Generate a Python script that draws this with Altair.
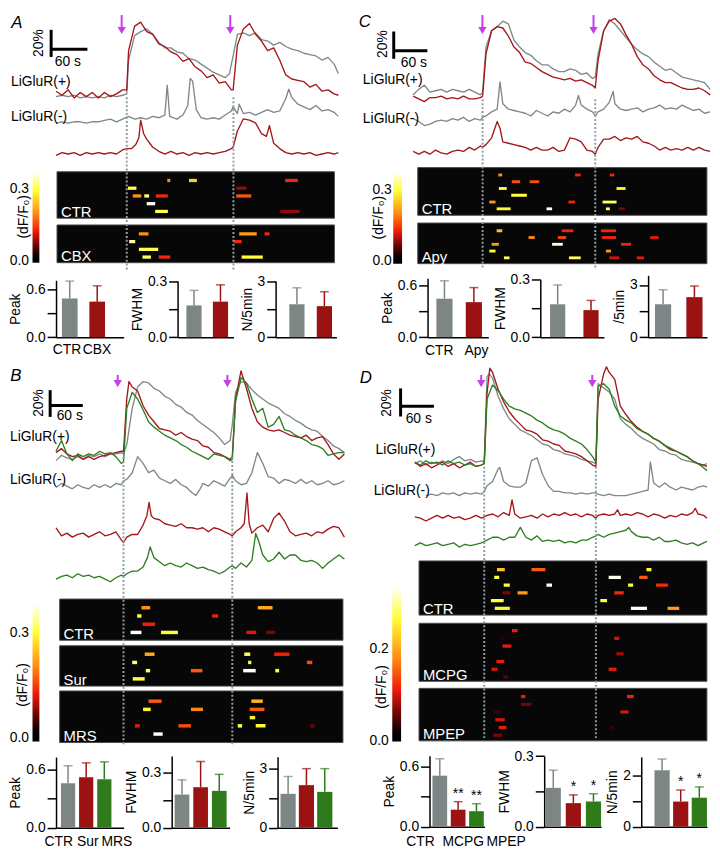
import altair as alt
import pandas as pd

# ============================ DATA ============================
# Traces: (time in s, dF/F in %)
A_GREY_P = [(0,0),(10,1),(20,0),(30,1),(40,-1),(50,0),(60,-1),(70,0),(80,-1),(90,1),(100,0),(110,1),(117,2),(120,27),(130,45),(140,48),(150,50),(160,46),(170,40),(180,36),(190,36),(200,33),(210,32),(220,28),(230,27),(240,24),(250,21),(260,18),(270,16),(280,14),(287,17),(290,24),(293,30),(300,46),(310,47),(320,45),(330,47),(340,42),(350,41),(360,38),(370,40),(380,37),(390,35),(400,34),(410,32),(420,31),(430,30),(440,27),(450,29),(460,24),(467,17)]
A_RED_P = [(0,4),(10,1),(20,5),(30,-1),(40,3),(50,0),(60,3),(70,-1),(80,3),(90,0),(100,2),(110,5),(117,5),(120,34),(130,52),(140,55),(150,48),(160,46),(170,39),(180,37),(190,33),(200,31),(210,26),(220,28),(230,22),(240,19),(250,14),(260,16),(270,10),(280,11),(290,5),(293,5),(300,38),(310,50),(320,54),(330,46),(340,41),(350,34),(360,36),(370,27),(380,16),(390,13),(400,12),(410,11),(420,7),(430,9),(440,4),(450,5),(460,2),(467,1)]
A_GREY_N = [(0,-1),(10,0),(20,-1),(30,0),(40,0),(50,-1),(60,0),(70,0),(80,1),(90,2),(100,0),(110,2),(120,4),(130,2),(140,3),(150,2),(160,4),(170,3),(180,5),(184,27),(188,4),(200,2),(210,5),(218,12),(222,32),(226,30),(232,9),(240,3),(250,2),(260,3),(270,2),(280,5),(290,8),(293,11),(300,6),(303,13),(310,6),(320,7),(330,5),(340,7),(350,9),(360,7),(370,8),(380,17),(385,24),(390,18),(400,13),(410,11),(420,9),(430,12),(440,8),(450,9),(460,7),(467,4)]
A_RED_N = [(0,-1),(10,1),(20,0),(30,1),(40,-1),(50,1),(60,0),(70,1),(80,0),(90,1),(100,0),(110,3),(117,4),(125,4),(132,7),(137,12),(140,25),(145,15),(150,11),(160,5),(170,2),(180,0),(190,2),(200,0),(210,1),(220,-1),(230,1),(240,0),(250,1),(260,0),(270,1),(280,2),(290,4),(293,5),(300,17),(310,26),(320,25),(330,23),(340,15),(348,13),(353,21),(360,8),(370,4),(380,1),(390,0),(400,1),(410,0),(420,1),(430,-1),(440,0),(450,1),(460,0),(467,1)]

C_GREY_P = [(0,2),(10,6),(20,9),(30,4),(40,5),(50,6),(60,4),(70,6),(80,5),(90,4),(100,6),(110,4),(120,2),(124,4),(130,37),(140,49),(150,52),(160,56),(170,54),(180,42),(190,37),(200,33),(210,31),(220,27),(230,24),(240,24),(250,21),(260,19),(270,19),(280,21),(290,20),(300,17),(310,18),(320,14),(325,15),(330,32),(340,49),(350,57),(360,54),(370,49),(380,44),(390,39),(400,35),(410,32),(420,30),(430,26),(440,23),(450,20),(460,21),(470,18),(480,15),(490,14),(500,13),(510,12),(520,11),(530,6)]
C_RED_P = [(0,1),(10,-1),(20,-3),(30,0),(40,0),(50,1),(60,-1),(70,0),(80,-1),(90,1),(100,-1),(110,-1),(120,0),(124,1),(130,32),(140,49),(150,52),(160,51),(170,45),(180,37),(190,33),(200,26),(210,25),(220,22),(230,19),(240,17),(250,15),(260,14),(270,13),(280,14),(290,12),(300,13),(310,11),(320,9),(325,7),(330,27),(340,49),(350,56),(360,58),(370,54),(380,46),(390,39),(400,30),(410,24),(420,21),(430,16),(440,13),(450,11),(460,11),(470,9),(480,7),(490,6),(500,6),(510,7),(520,5),(530,2)]
C_GREY_N = [(0,0),(10,-2),(20,-5),(30,-4),(40,-2),(50,-1),(60,-2),(70,0),(80,-1),(90,1),(100,-2),(110,0),(120,-1),(124,1),(130,2),(140,5),(150,7),(155,27),(160,11),(170,7),(180,6),(190,5),(200,4),(210,2),(220,6),(230,4),(240,2),(250,5),(260,4),(270,7),(280,5),(290,10),(295,17),(300,10),(310,7),(320,5),(325,2),(330,5),(340,7),(350,12),(357,20),(360,11),(370,7),(380,6),(390,7),(400,8),(410,5),(420,7),(430,8),(440,10),(450,7),(460,8),(470,7),(480,10),(490,8),(500,6),(510,7),(520,4),(530,5)]
C_RED_N = [(0,1),(10,-1),(20,1),(30,-1),(40,2),(50,0),(60,-1),(70,1),(80,2),(90,1),(100,4),(110,2),(120,5),(124,4),(130,6),(140,11),(150,23),(155,18),(160,8),(170,7),(180,6),(190,5),(200,4),(210,2),(220,4),(230,2),(240,2),(250,4),(260,1),(270,2),(280,11),(290,10),(300,8),(310,2),(320,1),(325,-1),(330,4),(340,10),(350,10),(360,12),(370,9),(380,11),(390,10),(400,12),(410,8),(420,7),(430,5),(440,2),(450,4),(460,2),(470,3),(480,2),(490,4),(500,2),(510,4),(520,2),(530,1)]

B_GREY_P = [(0,-5),(10,-1),(20,-3),(30,-4),(40,-2),(50,-4),(60,-1),(70,-2),(80,0),(90,-2),(100,0),(110,0),(120,1),(124,0),(130,7),(140,34),(150,50),(160,54),(170,53),(180,49),(190,47),(200,43),(210,41),(220,37),(230,35),(240,31),(250,29),(260,25),(270,22),(280,19),(290,16),(300,12),(310,7),(320,10),(324,22),(330,46),(340,54),(350,53),(360,48),(370,44),(380,41),(390,38),(400,36),(410,34),(420,30),(430,28),(440,25),(450,23),(460,20),(470,18),(480,17),(490,13),(500,10),(510,6),(520,4),(530,1)]
B_RED_P = [(0,1),(10,4),(20,0),(30,-2),(40,-1),(50,-4),(60,-2),(70,-4),(80,-2),(90,-1),(100,0),(110,1),(120,2),(124,2),(130,41),(134,54),(140,50),(150,47),(160,36),(170,29),(180,24),(190,19),(200,18),(210,17),(220,14),(230,16),(240,13),(250,11),(260,10),(270,6),(280,5),(290,1),(300,0),(310,-2),(320,-4),(324,-2),(330,41),(340,62),(350,49),(360,34),(370,24),(380,20),(390,18),(400,17),(410,18),(420,16),(430,14),(440,13),(450,12),(460,14),(470,10),(480,12),(490,13),(500,7),(510,0),(520,-4),(530,0)]
B_GREEN_P = [(0,2),(10,10),(20,0),(30,-5),(40,0),(50,-2),(60,0),(70,-1),(80,2),(90,0),(100,1),(110,-2),(120,-7),(124,-6),(130,34),(140,46),(150,41),(160,33),(170,24),(180,20),(190,17),(200,14),(210,12),(220,10),(230,7),(240,5),(250,2),(260,0),(270,-2),(280,-4),(290,0),(300,-1),(310,-2),(320,-5),(324,-4),(330,39),(340,57),(350,53),(360,41),(370,31),(380,34),(390,20),(400,22),(410,28),(420,18),(430,17),(440,14),(450,12),(460,10),(470,7),(480,6),(490,4),(500,-1),(510,0),(520,1),(530,1)]
B_GREY_N = [(0,-1),(10,2),(20,0),(30,-2),(40,1),(50,-1),(60,-2),(70,1),(80,-1),(90,1),(100,-1),(110,2),(120,1),(124,4),(130,5),(140,10),(150,22),(160,17),(170,10),(180,12),(190,6),(200,4),(210,2),(220,5),(230,1),(240,-1),(250,-5),(257,-7),(265,-2),(270,2),(280,0),(290,4),(300,2),(310,0),(320,6),(324,8),(330,4),(340,1),(350,2),(360,10),(370,25),(380,17),(390,7),(400,6),(410,2),(420,5),(430,4),(440,2),(450,5),(460,2),(470,4),(480,1),(490,2),(500,4),(510,1),(520,2),(530,4)]
B_RED_N = [(0,5),(10,-1),(20,1),(30,-2),(40,0),(50,1),(60,-2),(70,0),(80,2),(90,-1),(100,0),(110,2),(120,-4),(124,-6),(130,-2),(140,0),(150,0),(160,7),(167,14),(171,24),(175,14),(180,12),(190,11),(200,8),(210,7),(220,6),(230,8),(240,5),(250,5),(260,4),(270,5),(280,2),(290,5),(300,4),(310,2),(320,0),(324,-1),(330,2),(340,5),(346,8),(351,31),(355,8),(360,1),(370,5),(380,7),(390,2),(400,12),(410,16),(420,10),(430,2),(440,-1),(450,0),(460,1),(470,-1),(480,2),(490,1),(500,4),(510,6),(520,5),(530,-2)]
B_GREEN_N = [(0,-2),(10,0),(20,1),(30,-1),(40,2),(50,0),(60,1),(70,-1),(80,0),(90,-2),(100,-4),(110,-1),(120,1),(124,0),(130,2),(140,4),(150,4),(160,7),(168,14),(173,22),(180,14),(190,11),(200,8),(210,10),(220,8),(230,7),(240,10),(250,8),(260,6),(270,7),(280,5),(290,4),(300,2),(310,4),(320,7),(324,8),(330,6),(340,10),(350,7),(360,12),(367,32),(372,27),(380,16),(390,11),(400,13),(410,18),(420,13),(430,16),(440,16),(450,12),(460,11),(470,12),(480,10),(490,6),(500,10),(510,13),(520,16),(530,13)]

D_GREY_P = [(0,0),(10,2),(20,-1),(30,1),(40,0),(50,2),(60,0),(70,3),(80,5),(90,2),(100,3),(110,1),(120,2),(125,1),(130,62),(134,64),(140,61),(150,48),(160,39),(170,32),(180,28),(190,24),(200,22),(210,20),(220,17),(230,14),(240,13),(250,10),(260,9),(270,7),(280,6),(290,5),(300,3),(310,2),(320,1),(326,0),(330,57),(340,54),(350,51),(360,46),(370,32),(380,28),(390,25),(400,21),(410,18),(420,16),(430,14),(440,10),(450,9),(460,7),(470,6),(480,3),(490,2),(500,1),(510,0),(520,-1),(526,0)]
D_RED_P = [(0,1),(10,-2),(20,0),(30,-3),(40,-1),(50,1),(60,-2),(70,0),(80,-3),(90,-1),(100,1),(110,-2),(120,-1),(125,0),(130,50),(135,68),(140,65),(150,53),(160,44),(170,37),(180,32),(190,28),(200,24),(210,23),(220,21),(230,17),(240,16),(250,14),(260,13),(270,9),(280,8),(290,7),(300,5),(310,2),(320,-1),(326,-2),(330,46),(340,64),(345,69),(350,65),(360,60),(370,41),(380,35),(390,30),(400,26),(410,23),(420,21),(430,18),(440,16),(450,13),(460,10),(470,9),(480,7),(490,5),(500,2),(510,0),(520,-1),(526,-2)]
D_GREEN_P = [(0,1),(10,-1),(20,2),(30,0),(40,1),(50,-1),(60,2),(70,0),(80,1),(90,-1),(100,0),(110,-2),(120,-1),(125,0),(130,46),(140,56),(150,52),(160,46),(170,41),(180,39),(190,38),(200,36),(210,34),(220,31),(230,29),(240,26),(250,24),(260,23),(270,21),(280,18),(290,16),(300,14),(310,10),(320,5),(326,1),(330,55),(340,57),(350,53),(360,41),(370,34),(380,31),(390,29),(400,25),(410,23),(420,21),(430,18),(440,16),(450,13),(460,11),(470,9),(480,7),(490,5),(500,2),(510,0),(520,-3),(526,-5)]
D_GREY_N = [(20,-1),(30,0),(40,-1),(50,1),(60,0),(70,1),(80,-1),(90,1),(100,0),(110,1),(120,0),(125,2),(130,6),(140,9),(150,18),(153,19),(160,9),(170,6),(180,5),(190,5),(200,8),(210,24),(220,26),(230,14),(240,6),(250,2),(260,2),(270,1),(280,1),(290,0),(300,1),(310,0),(320,1),(326,1),(330,0),(340,-1),(350,0),(360,-1),(370,-1),(380,-1),(390,0),(400,1),(410,2),(420,3),(424,23),(430,8),(440,5),(450,8),(460,5),(470,3),(480,5),(490,4),(500,3),(510,5),(520,6),(526,5)]
D_RED_N = [(0,0),(10,-1),(20,-3),(30,-1),(40,1),(50,-1),(60,1),(70,-1),(80,0),(90,-2),(100,-1),(110,1),(120,-1),(125,0),(130,1),(140,2),(150,0),(160,3),(170,1),(175,12),(180,2),(190,-1),(200,0),(210,1),(220,-1),(230,2),(240,0),(250,2),(260,1),(270,3),(280,1),(290,2),(300,0),(310,2),(320,1),(326,-1),(330,1),(340,2),(350,1),(360,2),(365,5),(370,1),(380,2),(390,1),(400,3),(410,2),(420,0),(430,2),(440,1),(450,-1),(460,1),(470,0),(480,2),(490,1),(500,3),(505,6),(510,2),(520,1),(526,-1)]
D_GREEN_N = [(0,-1),(10,1),(20,-1),(30,0),(40,1),(50,-1),(60,0),(70,1),(80,-2),(90,0),(100,-1),(110,0),(120,1),(125,2),(130,3),(140,5),(150,5),(160,3),(170,5),(180,5),(190,12),(200,5),(210,3),(220,6),(230,2),(240,3),(250,2),(260,3),(270,1),(280,2),(290,1),(300,3),(310,3),(320,5),(326,6),(330,7),(340,5),(350,7),(360,8),(370,9),(380,10),(385,12),(390,9),(400,6),(410,5),(420,5),(430,3),(440,5),(450,2),(460,2),(470,3),(480,1),(490,0),(500,1),(510,-1),(520,1),(526,2)]

# Photostimulation (dotted lines) and arrow times, s
A_STIM, A_ARROW = [117, 293.5], [108.6, 288.2]
C_STIM, C_ARROW = [124, 325], [123.6, 321.9]
B_STIM, B_ARROW = [124, 324], [113.4, 315]
D_STIM, D_ARROW = [125, 326], [119.5, 319.5]

# Raster events: (group, cell row, start s, end s, peak dF/F0)
A_DASH = [("CTR",1,184,189,0.20),("CTR",1,220,233,0.25),("CTR",1,379,400,0.13),
          ("CTR",2,119,133,0.30),("CTR",2,298,315,0.08),
          ("CTR",3,127,141,0.20),("CTR",3,146,154,0.31),("CTR",3,165,185,0.13),("CTR",3,298,323,0.16),
          ("CTR",4,150,164,0.37),
          ("CTR",5,164,185,0.30),("CTR",5,371,403,0.08),
          ("CBX",1,137,153,0.20),("CBX",1,303,332,0.21),("CBX",1,345,353,0.13),
          ("CBX",2,121,131,0.33),("CBX",2,294,307,0.13),
          ("CBX",3,137,169,0.30),
          ("CBX",4,143,157,0.31),("CBX",4,170,189,0.13),("CBX",4,307,342,0.29)]
C_DASH = [("CTR",1,152,159,0.20),("CTR",1,289,299,0.13),("CTR",1,351,359,0.13),
          ("CTR",2,176,191,0.16),("CTR",2,208,225,0.16),
          ("CTR",3,153,167,0.30),("CTR",3,363,379,0.29),
          ("CTR",4,175,203,0.30),
          ("CTR",5,136,147,0.21),("CTR",5,277,289,0.13),("CTR",5,338,363,0.31),
          ("CTR",6,149,174,0.29),("CTR",6,238,248,0.37),("CTR",6,344,351,0.31),("CTR",6,367,378,0.07),
          ("Apy",1,149,159,0.24),("Apy",1,265,286,0.13),("Apy",1,335,362,0.13),
          ("Apy",2,206,217,0.20),("Apy",2,258,273,0.15),("Apy",2,337,362,0.13),("Apy",2,423,438,0.12),
          ("Apy",3,140,153,0.21),("Apy",3,248,267,0.36),("Apy",3,371,389,0.13),
          ("Apy",4,136,147,0.30),("Apy",4,344,353,0.21),
          ("Apy",5,162,172,0.30),("Apy",5,278,299,0.31),("Apy",5,350,368,0.11),("Apy",5,399,412,0.12)]
B_DASH = [("CTR",1,157,173,0.21),("CTR",1,371,398,0.23),
          ("CTR",2,149,157,0.31),("CTR",2,287,298,0.13),
          ("CTR",3,159,182,0.13),
          ("CTR",4,137,157,0.38),("CTR",4,193,224,0.30),("CTR",4,350,368,0.12),("CTR",4,386,403,0.07),
          ("Sur",1,163,181,0.23),("Sur",1,346,357,0.31),("Sur",1,401,429,0.13),
          ("Sur",2,140,149,0.33),("Sur",2,353,359,0.30),("Sur",2,461,471,0.16),
          ("Sur",3,165,173,0.31),("Sur",3,248,269,0.17),("Sur",3,344,367,0.38),("Sur",3,403,410,0.31),
          ("Sur",4,141,163,0.31),
          ("MRS",1,170,194,0.17),("MRS",1,359,380,0.24),
          ("MRS",2,160,174,0.30),("MRS",2,248,270,0.20),("MRS",2,356,383,0.17),
          ("MRS",3,356,366,0.29),
          ("MRS",4,145,154,0.12),("MRS",4,225,248,0.16),("MRS",4,334,342,0.31),("MRS",4,367,385,0.30),("MRS",4,467,476,0.06),
          ("MRS",5,179,196,0.38)]
D_DASH = [("CTR",1,148,162,0.22),("CTR",1,210,235,0.15),("CTR",1,417,426,0.26),
          ("CTR",2,143,152,0.27),("CTR",2,349,371,0.33),("CTR",2,404,419,0.15),
          ("CTR",3,160,171,0.27),("CTR",3,237,247,0.33),("CTR",3,384,393,0.27),("CTR",3,434,456,0.12),
          ("CTR",4,158,172,0.065),("CTR",4,185,203,0.19),("CTR",4,359,376,0.12),
          ("CTR",5,137,160,0.27),("CTR",5,334,346,0.27),
          ("CTR",6,144,171,0.26),("CTR",6,389,418,0.33),("CTR",6,455,476,0.19),
          ("MCPG",1,175,185,0.11),
          ("MCPG",2,153,162,0.03),("MCPG",2,359,368,0.10),
          ("MCPG",3,158,174,0.11),
          ("MCPG",4,363,376,0.08),
          ("MCPG",5,147,161,0.11),
          ("MCPG",6,138,149,0.10),("MCPG",6,349,363,0.11),
          ("MCPG",7,159,168,0.05),
          ("MPEP",1,191,199,0.11),("MPEP",1,382,394,0.115),
          ("MPEP",2,191,210,0.06),
          ("MPEP",3,141,153,0.035),("MPEP",3,370,385,0.10),
          ("MPEP",4,145,162,0.10),
          ("MPEP",5,151,165,0.11),("MPEP",5,351,359,0.035),
          ("MPEP",6,141,157,0.065)]

# Summary bars: mean and SEM
A_CATS = ["CTR", "CBX"]
A_PEAK, A_PEAK_SEM = [0.49, 0.45], [0.22, 0.20]
A_FWHM, A_FWHM_SEM = [0.17, 0.19], [0.08, 0.09]
A_N5, A_N5_SEM = [1.76, 1.66], [0.88, 0.77]
C_CATS = ["CTR", "Apy"]
C_PEAK, C_PEAK_SEM = [0.45, 0.41], [0.21, 0.17]
C_FWHM, C_FWHM_SEM = [0.17, 0.14], [0.10, 0.05]
C_N5, C_N5_SEM = [1.89, 2.30], [0.83, 0.64]
B_CATS = ["CTR", "Sur", "MRS"]
B_PEAK, B_PEAK_SEM = [0.46, 0.52, 0.50], [0.18, 0.15, 0.18]
B_FWHM, B_FWHM_SEM = [0.18, 0.22, 0.20], [0.08, 0.14, 0.09]
B_N5, B_N5_SEM = [1.72, 2.16, 1.82], [0.88, 0.84, 1.18]
D_CATS = ["CTR", "MCPG", "MPEP"]
D_PEAK, D_PEAK_SEM = [0.51, 0.17, 0.155], [0.17, 0.08, 0.075]
D_FWHM, D_FWHM_SEM = [0.165, 0.10, 0.107], [0.075, 0.035, 0.033]
D_N5, D_N5_SEM = [2.20, 0.98, 1.13], [0.44, 0.45, 0.42]
D_STARS_PEAK = ["", "**", "**"]
D_STARS_OTHER = ["", "*", "*"]

# ============================ STYLE / LAYOUT ============================
SX, SY = 0.99, 0.977
def px(x): return x * SX
def py(y): return y * SY
W, H = int(round(px(718))), int(round(py(862)))

FONT = "Liberation Sans"
GREY, RED, GREEN = "#7e8888", "#a3161a", "#2e7d1f"
BGREY, BRED, BGREEN = "#7d8585", "#9b1212", "#2f7b1c"
MAG = "#c23fea"
DOT = "#8d9ea6"
CM_FR = [0.0, 0.05, 0.19, 0.33, 0.53, 0.79, 1.0]
CM_COL = ["#000000", "#060000", "#7a0606", "#f01a0a", "#ff8a10", "#ffff38", "#ffffff"]

PANELS = [
    dict(x0=49, px60=37.0, T=467, base=87.3, ppp=1.4,
         traces=[("g+", A_GREY_P, GREY), ("r+", A_RED_P, RED), ("g-", A_GREY_N, GREY), ("r-", A_RED_N, RED)],
         offsets={"g+": 0, "r+": 0, "g-": -18.6, "r-": -42.4},
         stim=A_STIM, arrows=A_ARROW, dot_y=(88, 266), arrow_y=(3, 23),
         sb=dict(vx=44, vtop=18.3, hy=38.3), t20=(32, 32), t60=(61, 52),
         lplus=(3, 72), lminus=(3, 108), letter=("A", 9, 11),
         heat=dict(slot0=166, row_h=8, offs={"CTR": 0, "CBX": 6.9}, dashes=A_DASH,
                   boxes=[("CTR", 50, 333, 165, 213), ("CBX", 50, 333, 220, 259)]),
         cbar=dict(x0=25, x1=32, top=165, bottom=259, zero=257, tick=182, tickv=0.3, lab_right=21, tx=16, ty=211),
         cats=A_CATS, cols=[BGREY, BRED], stars=None,
         bars=[dict(title="Peak", mean=A_PEAK, sem=A_PEAK_SEM, axis=49, end=118, zero=336, tickpx=287, tickv=0.6, top=0.72, ticks=[0, 0.3, 0.6], fmt=".1f", first=55, bw=16, step=28),
               dict(title="FWHM", mean=A_FWHM, sem=A_FWHM_SEM, axis=173, end=230, zero=336, tickpx=278, tickv=0.3, top=0.3, ticks=[0, 0.15, 0.3], fmt=".1f", first=182, bw=15.5, step=27),
               dict(title="N/5min", mean=A_N5, sem=A_N5_SEM, axis=273, end=335, zero=336, tickpx=278, tickv=3, top=3, ticks=[0, 1.5, 3], fmt="d", first=287, bw=15.5, step=28)],
         labels=dict(rng=(45, 106), top=342)),
    dict(x0=413.3, px60=34.3, T=530, base=88.3, ppp=1.41,
         traces=[("g+", C_GREY_P, GREY), ("r+", C_RED_P, RED), ("g-", C_GREY_N, GREY), ("r-", C_RED_N, RED)],
         offsets={"g+": 0, "r+": 0, "g-": -15.5, "r-": -40.5},
         stim=C_STIM, arrows=C_ARROW, dot_y=(90, 265), arrow_y=(3, 23),
         sb=dict(vx=393.5, vtop=20, hy=40), t20=(383, 33), t60=(414, 53),
         lplus=(362, 70), lminus=(362, 110), letter=("C", 364, 10),
         heat=dict(slot0=161.3, row_h=7, offs={"CTR": 0, "Apy": 8.24}, dashes=C_DASH,
                   boxes=[("CTR", 418, 713, 160.7, 210), ("Apy", 418, 713, 218, 260)]),
         cbar=dict(x0=393, x1=402, top=165, bottom=260, zero=257, tick=183, tickv=0.3, lab_right=391, tx=377.5, ty=212),
         cats=C_CATS, cols=[BGREY, BRED], stars=None,
         bars=[dict(title="Peak", mean=C_PEAK, sem=C_PEAK_SEM, axis=428, end=490, zero=336, tickpx=283, tickv=0.6, top=0.69, ticks=[0, 0.3, 0.6], fmt=".1f", first=437, bw=16.5, step=30),
               dict(title="FWHM", mean=C_FWHM, sem=C_FWHM_SEM, axis=543, end=608, zero=336, tickpx=276, tickv=0.3, top=0.3, ticks=[0, 0.15, 0.3], fmt=".1f", first=553, bw=15.5, step=34),
               dict(title="/5min", mean=C_N5, sem=C_N5_SEM, axis=653, end=713, zero=336, tickpx=282, tickv=3, top=3.55, ticks=[0, 1.5, 3], fmt="d", first=660, bw=16.5, step=32)],
         labels=dict(rng=(421, 497), top=343)),
    dict(x0=49, px60=33.3, T=529, base=456.7, ppp=1.385,
         traces=[("g+", B_GREY_P, GREY), ("r+", B_RED_P, RED), ("G+", B_GREEN_P, GREEN), ("g-", B_GREY_N, GREY), ("r-", B_RED_N, RED), ("G-", B_GREEN_N, GREEN)],
         offsets={"g+": 0, "r+": 0, "G+": 0, "g-": -24.0, "r-": -60.1, "G-": -91.4},
         stim=B_STIM, arrows=B_ARROW, dot_y=(460, 758), arrow_y=(375, 388),
         sb=dict(vx=43, vtop=390.7, hy=406.7), t20=(32, 404), t60=(63, 417),
         lplus=(2, 439), lminus=(2, 484), letter=("B", 8, 376),
         heat=dict(slot0=607.2, row_h=8.5, offs={"CTR": 0, "Sur": 5.65, "MRS": 11.36}, dashes=B_DASH,
                   boxes=[("CTR", 52.7, 341.7, 606.7, 649.3), ("Sur", 52.7, 341.7, 655, 696.7), ("MRS", 52.7, 341.7, 701.7, 755)]),
         cbar=dict(x0=25, x1=32, top=611.7, bottom=754, zero=750, tick=641.7, tickv=0.3, lab_right=21, tx=15, ty=695),
         cats=B_CATS, cols=[BGREY, BRED, BGREEN], stars=None,
         bars=[dict(title="Peak", mean=B_PEAK, sem=B_PEAK_SEM, axis=49, end=118, zero=843, tickpx=783, tickv=0.6, top=0.73, ticks=[0, 0.3, 0.6], fmt=".1f", first=54, bw=14.5, step=18.5),
               dict(title="FWHM", mean=B_FWHM, sem=B_FWHM_SEM, axis=167, end=226, zero=843, tickpx=786, tickv=0.3, top=0.39, ticks=[0, 0.15, 0.3], fmt=".1f", first=170, bw=15, step=19),
               dict(title="N/5min", mean=B_N5, sem=B_N5_SEM, axis=275, end=336, zero=843, tickpx=782, tickv=3, top=3.6, ticks=[0, 1.5, 3], fmt="d", first=278, bw=15.5, step=18.7)],
         labels=dict(rng=(37, 126), top=850)),
    dict(x0=415, px60=34.0, T=526, base=466.7, ppp=1.45,
         traces=[("g+", D_GREY_P, GREY), ("r+", D_RED_P, RED), ("G+", D_GREEN_P, GREEN), ("g-", D_GREY_N, GREY), ("r-", D_RED_N, RED), ("G-", D_GREEN_N, GREEN)],
         offsets={"g+": 0, "r+": 0, "G+": 0, "g-": -21.8, "r-": -37.9, "G-": -57.5},
         stim=D_STIM, arrows=D_ARROW, dot_y=(470, 752), arrow_y=(375, 388),
         sb=dict(vx=400.5, vtop=389, hy=407.3), t20=(387, 404), t60=(419, 421),
         lplus=(375, 453), lminus=(373, 495), letter=("D", 365, 378),
         heat=dict(slot0=568.3, row_h=8, offs={"CTR": 0, "MCPG": 7.875, "MPEP": 16.4}, dashes=D_DASH,
                   boxes=[("CTR", 419.3, 713, 567.3, 623.3), ("MCPG", 419.3, 713, 631.7, 691.7), ("MPEP", 419.3, 713, 699, 753.3)]),
         cbar=dict(x0=392, x1=401, top=593.3, bottom=754, zero=753, tick=658.3, tickv=0.2, lab_right=388, tx=381, ty=697),
         cats=D_CATS, cols=[BGREY, BRED, BGREEN], stars=[D_STARS_PEAK, D_STARS_OTHER, D_STARS_OTHER],
         bars=[dict(title="Peak", mean=D_PEAK, sem=D_PEAK_SEM, axis=430, end=486, zero=842, tickpx=780, tickv=0.6, top=0.71, ticks=[0, 0.3, 0.6], fmt=".1f", first=433, bw=15, step=18.7),
               dict(title="FWHM", mean=D_FWHM, sem=D_FWHM_SEM, axis=547, end=605, zero=842, tickpx=769, tickv=0.3, top=0.3, ticks=[0, 0.15, 0.3], fmt=".1f", first=548.5, bw=15.5, step=20.5),
               dict(title="N/5min", mean=D_N5, sem=D_N5_SEM, axis=646, end=713, zero=842, tickpx=789, tickv=2, top=2.72, ticks=[0, 1, 2], fmt="d", first=660, bw=15.5, step=19)],
         labels=dict(rng=(399, 530), top=850)),
]

ONE = pd.DataFrame({"k": [0]})


def txt(s, x, y, size=14, align="left", baseline="middle", angle=0, color="black", style="normal"):
    return alt.Chart(pd.DataFrame({"s": [s]})).mark_text(
        align=align, baseline=baseline, angle=angle, fontSize=size, color=color, fontStyle=style
    ).encode(x=alt.value(px(x)), y=alt.value(py(y)), text="s:N")


def time_scale(P):
    return alt.Scale(domain=[0, P["T"]], range=[px(P["x0"]), px(P["x0"] + P["T"] * P["px60"] / 60.0)],
                     nice=False, zero=False)


def top_layer(P):
    xs = time_scale(P)
    ylo, yhi = -110, 80
    ys = alt.Scale(domain=[ylo, yhi], range=[py(P["base"] - ylo * P["ppp"]), py(P["base"] - yhi * P["ppp"])],
                   nice=False, zero=False)
    X = lambda f: alt.X(f, scale=xs, axis=None)
    Y = lambda f: alt.Y(f, scale=ys, axis=None)
    layers = []
    for name, pts, col in P["traces"]:
        df = pd.DataFrame(pts, columns=["t", "v"])
        df["y"] = df["v"] + P["offsets"][name]
        layers.append(alt.Chart(df).mark_line(color=col, strokeWidth=1.35, strokeJoin="round").encode(
            x=X("t:Q"), y=Y("y:Q")))
    # dotted stimulation lines
    y0, y1 = P["dot_y"]
    layers.append(alt.Chart(pd.DataFrame({"t": P["stim"]})).mark_rule(
        color=DOT, strokeWidth=2, strokeDash=[2, 2]).encode(
        x=X("t:Q"), y=alt.value(py(y0)), y2=alt.value(py(y1))))
    # arrows
    a0, a1 = P["arrow_y"]
    adf = pd.DataFrame({"t": P["arrows"]})
    layers.append(alt.Chart(adf).mark_rule(color=MAG, strokeWidth=2).encode(
        x=X("t:Q"), y=alt.value(py(a0)), y2=alt.value(py(a1 - 6))))
    layers.append(alt.Chart(adf).mark_point(shape="triangle-down", filled=True, color=MAG, size=70, opacity=1).encode(
        x=X("t:Q"), y=alt.value(py(a1 - 4))))
    # scale bars (20 % and 60 s) drawn through the data scales
    sb = P["sb"]
    tv = (sb["vx"] - P["x0"]) * 60.0 / P["px60"]
    vt = (P["base"] - sb["vtop"]) / P["ppp"]
    vh = (P["base"] - sb["hy"]) / P["ppp"]
    layers.append(alt.Chart(pd.DataFrame({"t": [tv], "a": [vt - 20], "b": [vt]})).mark_rule(
        color="black", strokeWidth=3).encode(x=X("t:Q"), y=Y("a:Q"), y2="b:Q"))
    layers.append(alt.Chart(pd.DataFrame({"a": [tv], "b": [tv + 60], "y": [vh]})).mark_rule(
        color="black", strokeWidth=3).encode(x=X("a:Q"), x2="b:Q", y=Y("y:Q")))
    layers.append(txt("20%", P["t20"][0], P["t20"][1], align="center", angle=270))
    layers.append(txt("60 s", P["t60"][0], P["t60"][1], align="center"))
    layers.append(txt("LiGluR(+)", *P["lplus"]))
    layers.append(txt("LiGluR(-)", *P["lminus"]))
    L, lx, ly = P["letter"]
    layers.append(txt(L, lx, ly, size=17, align="center", style="italic"))
    for name, bx0, bx1, by0, by1 in P["heat"]["boxes"]:
        layers.append(txt(name, bx0 + 4, by1 - 1.5, size=15, baseline="alphabetic", color="white"))
    return alt.layer(*layers)


def cbar_hi(P):
    cb = P["cbar"]
    ppu = (cb["zero"] - cb["tick"]) / cb["tickv"]
    return (cb["zero"] - cb["top"]) / ppu, -(cb["bottom"] - cb["zero"]) / ppu


def heat_layer(P):
    xs = time_scale(P)
    h = P["heat"]
    rs = alt.Scale(domain=[0, 1], range=[py(h["slot0"]), py(h["slot0"] + h["row_h"])], nice=False, zero=False)
    hi, lo = cbar_hi(P)
    cs = alt.Scale(domain=[f * hi for f in CM_FR], range=CM_COL, clamp=True, interpolate="rgb", nice=False, zero=False)
    layers = []
    for name, bx0, bx1, by0, by1 in h["boxes"]:
        layers.append(alt.Chart(ONE).mark_rect(color="#070707", stroke="#4d4d4d", strokeWidth=1).encode(
            x=alt.value(px(bx0)), x2=alt.value(px(bx1)), y=alt.value(py(by0)), y2=alt.value(py(by1))))
    df = pd.DataFrame(h["dashes"], columns=["grp", "row", "t0", "t1", "val"])
    slot = df["grp"].map(h["offs"]) + df["row"]
    df["ya"] = slot - 0.21
    df["yb"] = slot + 0.21
    layers.append(alt.Chart(df).mark_rect().encode(
        x=alt.X("t0:Q", scale=xs, axis=None), x2="t1:Q",
        y=alt.Y("ya:Q", scale=rs, axis=None), y2="yb:Q",
        color=alt.Color("val:Q", scale=cs, legend=None)))
    return alt.layer(*layers)


def cbar_layer(P):
    cb = P["cbar"]
    hi, lo = cbar_hi(P)
    stops = [alt.GradientStop(color=c, offset=min(max((f * hi - lo) / (hi - lo), 0), 1)) for f, c in zip(CM_FR, CM_COL)]
    grad = alt.Gradient(gradient="linear", stops=stops, x1=0, x2=0, y1=1, y2=0)
    ys = alt.Scale(domain=[0, cb["tickv"]], range=[py(cb["zero"]), py(cb["tick"])], nice=False, zero=False)
    ax = alt.Axis(orient="left", offset=-px(cb["x0"]), values=[0, cb["tickv"]], format=".1f", ticks=False,
                  domain=False, grid=False, labelPadding=px(cb["x0"]) - px(cb["lab_right"]), labelFontSize=14,
                  labelColor="black", title="(dF/F\u2080)", titleAngle=270, titleFontSize=14,
                  titleFontWeight="normal", titleColor="black", titleAlign="center", titleBaseline="middle",
                  titleX=px(cb["tx"]) - px(cb["x0"]), titleY=py(cb["ty"]))
    return alt.Chart(pd.DataFrame({"lo": [lo], "hi": [hi]})).mark_rect(color=grad).encode(
        x=alt.value(px(cb["x0"])), x2=alt.value(px(cb["x1"])),
        y=alt.Y("lo:Q", scale=ys, axis=ax), y2="hi:Q")


def band(axis, end, first, bw, step, n):
    pi = 1 - bw / step
    total = end - axis
    po = max((total / step - (n - pi)) / 2, 0)
    slack = total - step * (n - pi)
    al = (first - axis) / slack if slack > 1e-6 else 0.5
    return pi, po, min(max(al, 0), 1)


def bar_layer(b, cats, cols, stars):
    pi, po, al = band(b["axis"], b["end"], b["first"], b["bw"], b["step"], len(cats))
    xs = alt.Scale(type="band", domain=cats, range=[px(b["axis"]), px(b["end"])],
                   paddingInner=pi, paddingOuter=po, align=al, round=False)
    ppu = (b["zero"] - b["tickpx"]) / b["tickv"]
    ys = alt.Scale(domain=[0, b["top"]], range=[py(b["zero"]), py(b["zero"] - b["top"] * ppu)], nice=False, zero=False)
    df = pd.DataFrame({"cat": cats, "m": b["mean"], "e": [m + s for m, s in zip(b["mean"], b["sem"])],
                       "col": cols, "star": stars if stars else [""] * len(cats)})
    xenc = alt.X("cat:N", scale=xs, sort=cats,
                 axis=alt.Axis(orient="bottom", offset=py(b["zero"]) - H, labels=False, ticks=False, domain=True,
                               domainColor="black", domainWidth=1.5, title=None, grid=False))
    mid = b["ticks"][1]
    yax = alt.Axis(orient="left", offset=-px(b["axis"]), values=b["ticks"], format=b["fmt"],
                   labelExpr=f"datum.value == {mid} ? '' : datum.label", title=b["title"],
                   domainColor="black", domainWidth=1.5, tickColor="black", tickWidth=1.5, tickSize=9,
                   labelFontSize=14, labelPadding=2, labelColor="black", titleFontSize=14,
                   titleFontWeight="normal", titleColor="black", titlePadding=3, grid=False)
    col = alt.Color("col:N", scale=None)
    bars = alt.Chart(df).mark_bar().encode(x=xenc, y=alt.Y("m:Q", scale=ys, axis=yax), color=col)
    err = alt.Chart(df).mark_rule(strokeWidth=1.5).encode(x=xenc, y=alt.Y("m:Q", scale=ys, axis=yax), y2="e:Q", color=col)
    cap = alt.Chart(df).mark_tick(orient="horizontal", thickness=1.5, size=9).encode(
        x=xenc, y=alt.Y("e:Q", scale=ys, axis=yax), color=col)
    st = alt.Chart(df).mark_text(dy=-8, fontSize=14, baseline="middle", color="black").encode(
        x=xenc, y=alt.Y("e:Q", scale=ys, axis=yax), text="star:N")
    return alt.layer(bars, err, cap, st)


def label_layer(P):
    cats = P["cats"]
    lb = P["labels"]
    xs = alt.Scale(type="band", domain=cats, range=[px(lb["rng"][0]), px(lb["rng"][1])],
                   paddingInner=0, paddingOuter=0, round=False)
    return alt.Chart(pd.DataFrame({"cat": cats})).mark_point(opacity=0).encode(
        x=alt.X("cat:N", scale=xs, sort=cats,
                axis=alt.Axis(orient="bottom", offset=py(lb["top"]) - H, ticks=False, domain=False, labelPadding=0,
                              labelFontSize=14, labelAngle=0, labelColor="black", labelOverlap=False,
                              labelBound=False, title=None, grid=False)),
        y=alt.value(0))


children = []
for P in PANELS:
    children.append(heat_layer(P))
    children.append(cbar_layer(P))
    children.append(top_layer(P))
    for i, b in enumerate(P["bars"]):
        children.append(bar_layer(b, P["cats"], P["cols"], P["stars"][i] if P["stars"] else None))
    children.append(label_layer(P))

chart = alt.layer(*children).resolve_scale(
    x="independent", y="independent", color="independent"
).properties(
    width=W, height=H, padding=0, autosize=alt.AutoSizeParams(type="none")
).configure(font=FONT).configure_view(stroke=None).configure_axis(labelFont=FONT, titleFont=FONT)

chart.save("out.html", embed_options={"renderer": "svg", "actions": False})
